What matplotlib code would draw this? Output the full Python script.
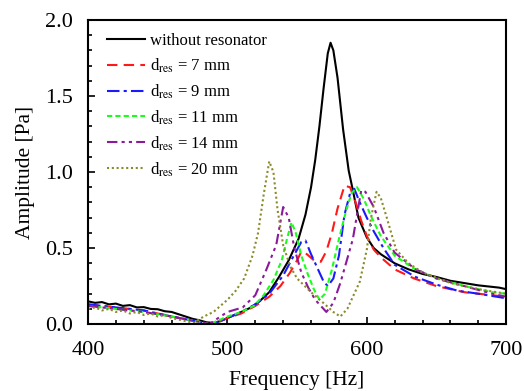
import matplotlib
matplotlib.use('Agg')
import matplotlib.pyplot as plt
from matplotlib.ticker import MultipleLocator, FormatStrFormatter

plt.rcParams['font.family'] = ['Liberation Serif', 'DejaVu Serif']
plt.rcParams['mathtext.fontset'] = 'stix'

# without resonator
f_ref = [400, 405, 410, 415, 420, 425, 430, 435, 440, 445, 450, 455, 460, 465, 470, 475, 480, 485, 490, 495,
         500, 510, 517, 523, 530, 537, 544, 551, 556, 560, 563, 566, 569, 572, 574, 576, 579, 583, 587, 590,
         594, 600, 605, 610, 620, 630, 640, 650, 660, 670, 680, 685, 690, 695, 700]
a_ref = [0.15, 0.14, 0.145, 0.13, 0.135, 0.12, 0.125, 0.11, 0.112, 0.10, 0.098, 0.085, 0.08, 0.065, 0.05, 0.035, 0.025, 0.012, 0.008, 0.02,
         0.04, 0.08, 0.11, 0.15, 0.21, 0.31, 0.42, 0.56, 0.72, 0.90, 1.08, 1.30, 1.55, 1.78, 1.85, 1.80, 1.62, 1.28, 1.01, 0.88,
         0.70, 0.57, 0.50, 0.46, 0.40, 0.36, 0.33, 0.31, 0.285, 0.27, 0.255, 0.25, 0.245, 0.24, 0.23]

# d_res = 7 mm
f_7 = [400, 420, 440, 460, 480, 487, 495, 500, 510, 520, 530, 538, 545, 550, 553, 557, 562, 567, 571, 575, 579,
       584, 588, 592, 596, 600, 605, 610, 620, 634, 650, 670, 690, 700]
a_7 = [0.13, 0.11, 0.09, 0.05, 0.015, 0.0, 0.02, 0.04, 0.07, 0.12, 0.18, 0.25, 0.34, 0.42, 0.476, 0.46, 0.42, 0.41, 0.48, 0.60, 0.76,
       0.91, 0.90, 0.80, 0.68, 0.58, 0.49, 0.44, 0.36, 0.30, 0.25, 0.21, 0.19, 0.18]

# d_res = 9 mm
f_9 = [400, 420, 440, 460, 480, 487, 495, 500, 510, 520, 530, 540, 547, 553, 556, 560, 565, 569, 572, 576, 580,
       584, 588, 591, 595, 600, 605, 612, 620, 635, 650, 665, 680, 700]
a_9 = [0.13, 0.11, 0.09, 0.05, 0.015, 0.0, 0.02, 0.04, 0.08, 0.13, 0.20, 0.32, 0.44, 0.54, 0.55, 0.46, 0.36, 0.28, 0.25, 0.30, 0.45,
       0.72, 0.86, 0.89, 0.80, 0.70, 0.61, 0.50, 0.39, 0.31, 0.26, 0.22, 0.20, 0.17]

# d_res = 11 mm
f_11 = [400, 420, 440, 460, 480, 487, 495, 500, 510, 519, 526, 533, 539, 543, 546, 549, 553, 558, 562, 566, 570,
        575, 580, 585, 589, 593, 598, 603, 610, 620, 633, 650, 670, 690, 700]
a_11 = [0.12, 0.10, 0.08, 0.05, 0.015, 0.0, 0.03, 0.05, 0.08, 0.12, 0.19, 0.29, 0.42, 0.57, 0.67, 0.60, 0.45, 0.32, 0.23, 0.16, 0.20,
        0.36, 0.56, 0.74, 0.86, 0.90, 0.82, 0.71, 0.58, 0.45, 0.37, 0.30, 0.25, 0.21, 0.20]

# d_res = 14 mm
f_14 = [400, 420, 440, 460, 480, 487, 495, 500, 511, 520, 528, 535, 540, 544, 548, 553, 558, 563, 567, 571, 576,
        581, 586, 590, 593, 596, 599, 605, 612, 620, 635, 650, 670, 690, 700]
a_14 = [0.12, 0.10, 0.08, 0.05, 0.015, 0.0, 0.05, 0.08, 0.11, 0.19, 0.36, 0.52, 0.77, 0.70, 0.50, 0.34, 0.24, 0.16, 0.12, 0.08, 0.14,
        0.27, 0.43, 0.56, 0.72, 0.88, 0.87, 0.77, 0.60, 0.47, 0.36, 0.30, 0.25, 0.20, 0.18]

# d_res = 20 mm
f_20 = [400, 405, 410, 415, 420, 425, 430, 435, 440, 445, 450, 455, 460, 470, 476, 483, 490, 500, 506, 512, 518,
        522, 526, 530, 533, 536, 540, 545, 550, 560, 570, 576, 581, 586, 590, 595, 600, 603, 607, 610, 614,
        621, 630, 640, 660, 680, 700]
a_20 = [0.10, 0.11, 0.09, 0.10, 0.08, 0.09, 0.07, 0.08, 0.06, 0.07, 0.05, 0.06, 0.04, 0.02, 0.01, 0.05, 0.08, 0.16, 0.22, 0.30, 0.45,
        0.60, 0.85, 1.07, 1.00, 0.75, 0.52, 0.38, 0.30, 0.21, 0.13, 0.08, 0.05, 0.10, 0.18, 0.28, 0.49, 0.70, 0.87, 0.83, 0.71,
        0.49, 0.40, 0.34, 0.27, 0.23, 0.20]

labels = ['without resonator',
          r'd$_{\mathrm{res}}$ = 7 mm',
          r'd$_{\mathrm{res}}$ = 9 mm',
          r'd$_{\mathrm{res}}$ = 11 mm',
          r'd$_{\mathrm{res}}$ = 14 mm',
          r'd$_{\mathrm{res}}$ = 20 mm']

fig = plt.figure(figsize=(5.24, 3.91), dpi=100)
ax = fig.add_axes([0.168, 0.171, 0.798, 0.778])

ax.plot(f_ref, a_ref, color='black', lw=1.5, ls='-', label=labels[0])
ax.plot(f_7, a_7, color='#ff1a1a', lw=1.5, ls=(0, (5, 3)), label=labels[1])
ax.plot(f_9, a_9, color='#1a1aff', lw=1.5, ls=(0, (6, 2, 1.5, 2)), label=labels[2])
ax.plot(f_11, a_11, color='#1aff1a', lw=1.5, ls=(0, (2.5, 1.5)), label=labels[3])
ax.plot(f_14, a_14, color='#8b1a9a', lw=1.5, ls=(0, (5, 2, 1.5, 2, 1.5, 2)), label=labels[4])
ax.plot(f_20, a_20, color='#8b8b2a', lw=1.5, ls=(0, (1, 1.3)), label=labels[5])

ax.set_xlim(400, 700)
ax.set_ylim(0, 2.0)
ax.xaxis.set_major_locator(MultipleLocator(100))
ax.xaxis.set_minor_locator(MultipleLocator(20))
ax.yaxis.set_major_locator(MultipleLocator(0.5))
ax.yaxis.set_minor_locator(MultipleLocator(0.1))
ax.yaxis.set_major_formatter(FormatStrFormatter('%.1f'))
ax.tick_params(which='both', direction='in', labelsize=16, width=1.2)
ax.tick_params(which='major', length=5)
ax.tick_params(which='minor', length=3)
ax.tick_params(axis='x', pad=12)
ax.tick_params(axis='y', pad=11)
for s in ax.spines.values():
    s.set_linewidth(1.5)

ax.set_xlabel('Frequency [Hz]', fontsize=15.5, labelpad=8)
ax.set_ylabel('Amplitude [Pa]', fontsize=15.5, labelpad=7)

ax.legend(loc='upper left', bbox_to_anchor=(0.0376, 0.968), frameon=False, fontsize=12,
          handlelength=2.3, handletextpad=0.3, labelspacing=0.45, borderaxespad=0, borderpad=0.2)

fig.savefig('out.png', dpi=100)
